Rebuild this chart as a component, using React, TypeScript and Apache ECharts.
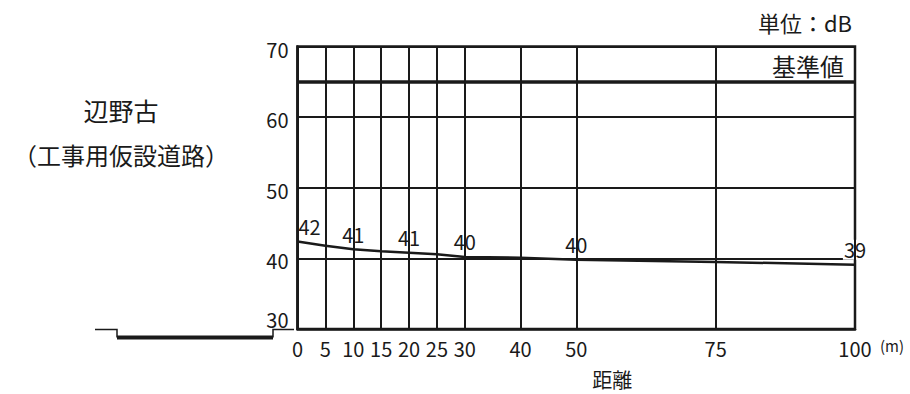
import React, { useEffect, useRef } from "react";
import * as echarts from "echarts";

// Distances from the road (m) and measured noise level (dB)
const distances = [0, 5, 10, 15, 20, 25, 30, 40, 50, 75, 100];
const levels = [42.4, 41.8, 41.3, 41.0, 40.8, 40.6, 40.2, 40.1, 39.8, 39.5, 39.1];
// Points that carry a value label, and the label text
const labelledDistances = [0, 10, 20, 30, 50, 100];
const labelValues = [42, 41, 41, 40, 40, 39];
// Axis ticks
const xTicks = [0, 5, 10, 15, 20, 25, 30, 40, 50, 75, 100];
const yTicks = [30, 40, 50, 60, 70];
const standardLevel = 65;

const FONT = "'Noto Sans CJK JP', 'Noto Sans', sans-serif";
const INK = "#1a1a1a";

export default function App() {
  const ref = useRef<HTMLDivElement>(null);
  useEffect(() => {
    if (!ref.current) return;
    const chart = echarts.init(ref.current, undefined, { renderer: "svg" });
    const labelOffsets: Record<number, number[]> = { 0: [12, 0] };
    const data = distances.map((d, i) => {
      const li = labelledDistances.indexOf(d);
      const item: any = { value: [d, levels[i]] };
      if (li >= 0) {
        item.label = {
          show: true,
          formatter: String(labelValues[li]),
          offset: labelOffsets[d] || [0, 0],
        };
      } else {
        item.label = { show: false };
      }
      return item;
    });
    chart.setOption({
      animation: false,
      title: {
        text: "辺野古",
        subtext: "（工事用仮設道路）",
        left: 116,
        top: 91,
        textAlign: "center",
        itemGap: 16,
        textStyle: { fontFamily: FONT, fontSize: 25, fontWeight: "normal", color: INK, lineHeight: 28 },
        subtextStyle: { fontFamily: FONT, fontSize: 24, fontWeight: "normal", color: INK, lineHeight: 28 },
      },
      grid: {
        left: 297.5,
        right: 55,
        top: 46.5,
        bottom: 64.5,
        show: true,
        borderColor: INK,
        borderWidth: 2.5,
        backgroundColor: "transparent",
      },
      xAxis: {
        type: "value",
        min: 0,
        max: 100,
        interval: 5,
        name: "距離",
        nameLocation: "middle",
        nameGap: 40,
        nameTextStyle: { fontFamily: FONT, fontSize: 20, color: INK, padding: [0, 0, 0, 72] },
        axisLine: { show: true, lineStyle: { color: INK, width: 2.5 } },
        axisTick: { show: false },
        splitLine: { show: false },
        axisLabel: {
          interval: 0,
          margin: 9,
          fontFamily: FONT,
          fontSize: 20,
          color: INK,
          formatter: (v: number) => (xTicks.includes(v) ? String(v) : ""),
        },
      },
      yAxis: {
        type: "value",
        min: 30,
        max: 70,
        interval: 10,
        axisLine: { show: true, lineStyle: { color: INK, width: 2.5 } },
        axisTick: { show: false },
        splitLine: { show: true, lineStyle: { color: INK, width: 2 } },
        axisLabel: {
          margin: 9,
          fontFamily: FONT,
          fontSize: 20,
          color: INK,
          formatter: (v: number) =>
            yTicks.includes(v) ? (v === 30 ? "{up|" + v + "}" : "{n|" + v + "}") : "",
          rich: {
            n: { fontFamily: FONT, fontSize: 20, color: INK, padding: [5, 0, 0, 0] },
            up: { fontFamily: FONT, fontSize: 20, color: INK, padding: [0, 0, 20, 0] },
          },
        },
      },
      series: [
        {
          type: "line",
          data,
          showSymbol: true,
          symbol: "circle",
          symbolSize: 0,
          lineStyle: { color: INK, width: 2.5 },
          itemStyle: { color: INK },
          label: {
            show: true,
            position: "top",
            distance: 5,
            fontFamily: FONT,
            fontSize: 20,
            color: INK,
            backgroundColor: "#fff",
            padding: [0, 1, 0, 1],
          },
          markLine: {
            silent: true,
            symbol: "none",
            label: { show: false },
            lineStyle: { color: INK, width: 2, type: "solid" },
            data: [
              ...xTicks.map((d) => ({ xAxis: d })),
              { yAxis: standardLevel, lineStyle: { color: INK, width: 3.5, type: "solid" } },
            ],
          },
          z: 3,
        },
      ],
      graphic: [
        {
          type: "text",
          x: 852,
          y: 22,
          style: {
            text: "単位：dB",
            font: `22px ${FONT}`,
            fill: INK,
            textAlign: "right",
            textVerticalAlign: "middle",
          },
        },
        {
          type: "text",
          x: 844,
          y: 65,
          style: {
            text: "基準値",
            font: `24px ${FONT}`,
            fill: INK,
            textAlign: "right",
            textVerticalAlign: "middle",
          },
        },
        {
          type: "text",
          x: 880,
          y: 345,
          style: {
            text: "(m)",
            font: `15px ${FONT}`,
            fill: INK,
            textAlign: "left",
            textVerticalAlign: "middle",
          },
        },
        {
          type: "polyline",
          shape: { points: [[95, 329.5], [117, 329.5], [117, 337.5]] },
          style: { stroke: INK, lineWidth: 1.5, fill: "none" },
        },
        {
          type: "polyline",
          shape: { points: [[117, 337.5], [273, 337.5]] },
          style: { stroke: INK, lineWidth: 4, fill: "none" },
        },
        {
          type: "polyline",
          shape: { points: [[273, 337.5], [273, 329.5], [294, 329.5]] },
          style: { stroke: INK, lineWidth: 1.5, fill: "none" },
        },
      ],
    });
    return () => chart.dispose();
  }, []);
  return (
    <div
      ref={ref}
      style={{ position: "fixed", left: 0, top: 0, width: 910, height: 394, background: "#fff" }}
    />
  );
}
